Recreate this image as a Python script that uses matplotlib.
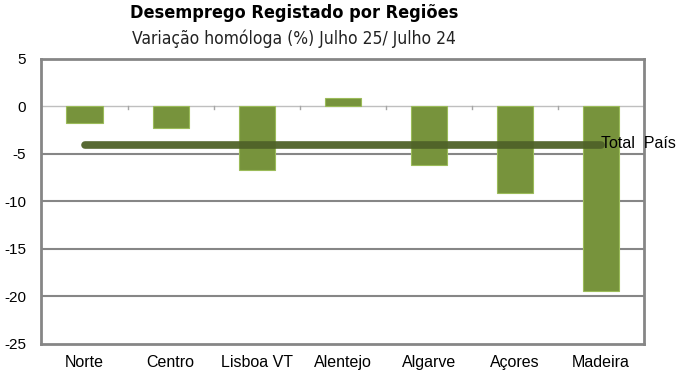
import matplotlib
matplotlib.use("Agg")
import matplotlib.pyplot as plt
import numpy as np

categories = ["Norte", "Centro", "Lisboa VT", "Alentejo", "Algarve", "Açores", "Madeira"]
values = [-1.8, -2.3, -6.7, 0.8, -6.2, -9.2, -19.5]
total_pais = -4.1
total_label = "Total  País"
title = "Desemprego Registado por Regiões"
subtitle = "Variação homóloga (%) Julho 25/ Julho 24"
yticks = [5, 0, -5, -10, -15, -20, -25]

plt.rcParams['font.family'] = ['Liberation Sans', 'DejaVu Sans']

fig = plt.figure(figsize=(6.8, 3.8), dpi=100)
ax = fig.add_axes([0.061, 0.096, 0.886, 0.750])

x = np.arange(len(categories))
ax.bar(x, values, width=0.42, color="#77933C", edgecolor="#9BBB59", linewidth=0.8, zorder=3)

ax.set_xlim(-0.5, len(categories) - 0.5)
ax.set_ylim(-25, 5)
ax.set_yticks(yticks)
ax.set_yticklabels([str(v) for v in yticks])
ax.tick_params(axis='y', length=0, pad=11, labelsize=11)

# gridlines
for v in yticks[2:-1]:
    ax.axhline(v, color="#868686", linewidth=1.5, zorder=1)
ax.axhline(0, color="#BFBFBF", linewidth=1.0, zorder=2)
# ticks at zero line between categories
for b in np.arange(0.5, len(categories) - 0.5, 1.0):
    ax.plot([b, b], [0, -0.35], color="#A6A6A6", linewidth=1.0, zorder=2)

ax.set_xticks(x)
ax.set_xticklabels(categories)
ax.tick_params(axis='x', length=0, pad=8, labelsize=11.5)

for s in ax.spines.values():
    s.set_color("#868686")
    s.set_linewidth(2)

# total line
ax.plot([x[0], x[-1]], [total_pais, total_pais], color="#4F6228", linewidth=5.5,
        solid_capstyle='round', alpha=0.95, zorder=4)
ax.text(x[-1] + 0.0, total_pais + 0.2, total_label, fontsize=11.5, ha='left', va='center',
        color="black", zorder=5, clip_on=False)

fig.text(0.432, 0.966, title, fontsize=13, fontweight='bold', ha='center', va='center',
         fontstretch='condensed', family=['DejaVu Sans'])
fig.text(0.432, 0.897, subtitle, fontsize=12.5, ha='center', va='center',
         fontstretch='condensed', family=['DejaVu Sans'], color="#222222")

fig.savefig("out.png", dpi=100)
